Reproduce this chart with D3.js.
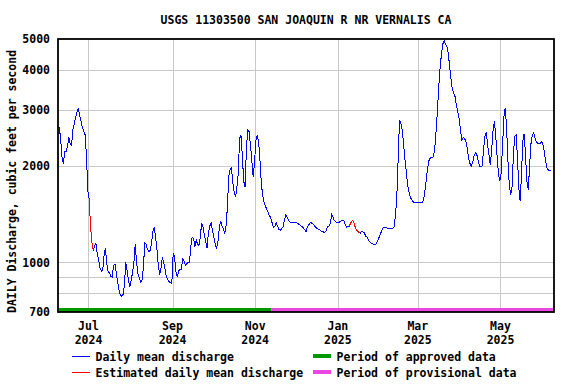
<html>
<script src='https://d3js.org/d3.v7.min.js'></script>
<style>
body { margin: 0; background: white; }
text { font-family: 'DejaVu Sans Mono', monospace; font-weight: bold; font-size: 11.5px; fill: black; }
</style>
<body>
<svg width=576 height=384></svg>
<script>
// daily mean discharge (cfs), one array per month, first value is 8 Jun 2024
const jun2024 = [2650, 2640, 2420, 2120, 2040, 2230, 2230, 2300, 2460, 2350, 2320, 2600, 2720, 2850, 2950, 3040, 2880, 2760, 2650, 2580, 2510, 2150, 1680];
const jul2024 = [1580, 1300, 1160, 1090, 1130, 1150, 1060, 1020, 960, 940, 945, 1050, 1110, 990, 935, 930, 905, 900, 980, 990, 930, 870, 820, 790, 785, 795, 850, 1000, 940, 880, 840];
const aug2024 = [880, 930, 1000, 1140, 1000, 920, 895, 870, 880, 960, 1150, 1140, 1100, 1080, 1090, 1150, 1250, 1290, 1200, 1100, 980, 915, 960, 1040, 1000, 950, 900, 885, 870, 865, 860];
const sep2024 = [1070, 1040, 940, 900, 940, 950, 950, 1025, 1010, 980, 990, 1000, 1000, 1120, 1200, 1190, 1120, 1175, 1140, 1130, 1200, 1330, 1290, 1220, 1160, 1110, 1240, 1300, 1330, 1260];
const oct2024 = [1200, 1140, 1110, 1160, 1280, 1350, 1300, 1280, 1230, 1300, 1490, 1850, 1960, 1975, 1780, 1660, 1600, 1720, 1900, 2440, 2500, 2170, 1800, 1720, 2250, 2600, 2570, 2330, 2090, 1850, 2050];
const nov2024 = [2400, 2500, 2400, 2100, 1780, 1620, 1550, 1500, 1470, 1440, 1400, 1380, 1330, 1290, 1300, 1330, 1300, 1270, 1260, 1275, 1290, 1350, 1410, 1390, 1360, 1340, 1330, 1330, 1330, 1330];
const dec2024 = [1330, 1325, 1315, 1305, 1295, 1285, 1265, 1250, 1290, 1310, 1330, 1330, 1320, 1310, 1290, 1280, 1270, 1265, 1255, 1250, 1245, 1245, 1260, 1300, 1300, 1330, 1410, 1385, 1350, 1340, 1330];
const jan2025 = [1330, 1345, 1350, 1357, 1350, 1310, 1290, 1300, 1300, 1330, 1350, 1345, 1300, 1270, 1255, 1240, 1235, 1250, 1245, 1240, 1210, 1200, 1180, 1160, 1150, 1145, 1140, 1135, 1150, 1175, 1200];
const feb2025 = [1230, 1260, 1290, 1290, 1290, 1280, 1280, 1275, 1275, 1280, 1290, 1400, 1600, 2100, 2790, 2720, 2600, 2350, 2100, 1920, 1750, 1660, 1600, 1570, 1550, 1540, 1540, 1540];
const mar2025 = [1540, 1540, 1540, 1545, 1590, 1700, 1860, 2000, 2110, 2125, 2125, 2140, 2280, 2580, 3000, 3550, 4100, 4500, 4830, 4930, 4820, 4720, 4500, 4100, 3750, 3480, 3380, 3300, 3100, 2960, 2820];
const apr2025 = [2600, 2420, 2460, 2440, 2390, 2270, 2110, 2040, 2000, 2060, 2150, 2200, 2180, 2080, 2000, 1990, 2010, 2250, 2480, 2560, 2330, 2170, 2020, 2250, 2580, 2770, 2500, 2150, 1900, 1800];
const may2025 = [1900, 2300, 2850, 3040, 2650, 2080, 1750, 1630, 1720, 2150, 2480, 2500, 2150, 1720, 1560, 1880, 2400, 2530, 2150, 1790, 1690, 2000, 2350, 2500, 2540, 2450, 2380, 2360, 2360, 2360, 2390];
const jun2025 = [2330, 2200, 2050, 1960, 1945, 1945, 1945];

// days flagged as estimated (first..last)
const estimatedRanges = [["2024-07-02", "2024-07-03"], ["2025-01-10", "2025-01-16"]];
// approval status periods
const periods = [
    {label: "Period of approved data", start: "2024-06-08T12:00Z", end: "2024-11-13T00:00Z", color: "#009a00"},
    {label: "Period of provisional data", start: "2024-11-13T00:00Z", end: "2025-06-09T12:00Z", color: "#ea46e2"}
];

const title = "USGS 11303500 SAN JOAQUIN R NR VERNALIS CA";
const yTitle = "DAILY Discharge, cubic feet per second";
const yLabels = [700, 1000, 2000, 3000, 4000, 5000];
const yGrid = [800, 900, 1000, 2000, 3000, 4000];
const xTickDates = ["2024-07-01", "2024-09-01", "2024-11-01", "2025-01-01", "2025-03-01", "2025-05-01"];
const xTickMonths = ["Jul", "Sep", "Nov", "Jan", "Mar", "May"];
const xTickYears = ["2024", "2024", "2024", "2025", "2025", "2025"];

const flow = [].concat(jun2024, jul2024, aug2024, sep2024, oct2024, nov2024, dec2024,
                       jan2025, feb2025, mar2025, apr2025, may2025, jun2025);
const day0 = Date.UTC(2024, 5, 8, 12);
const data = flow.map((v, i) => {
    const date = new Date(day0 + i * 864e5);
    const iso = date.toISOString().slice(0, 10);
    const est = estimatedRanges.some(r => iso >= r[0] && iso <= r[1]);
    return {date: date, value: v, est: est};
});

const plotL = 58, plotR = 554, plotT = 39, plotB = 312;

const x = d3.scaleUtc()
    .domain([new Date("2024-06-08T12:00Z"), new Date("2025-06-09T12:00Z")])
    .range([plotL, plotR]);
const y = d3.scaleLog()
    .domain([700, 5000])
    .range([plotB, plotT]);

const svg = d3.select("svg");

// grid
svg.append("g")
    .selectAll("line")
    .data(yGrid)
    .enter()
    .append("line")
    .attr("x1", plotL).attr("x2", plotR)
    .attr("y1", d => Math.round(y(d)) + 0.5)
    .attr("y2", d => Math.round(y(d)) + 0.5)
    .attr("stroke", "#c8c8c8")
    .attr("shape-rendering", "crispEdges");

svg.append("g")
    .selectAll("line")
    .data(xTickDates)
    .enter()
    .append("line")
    .attr("x1", d => Math.round(x(new Date(d + "T00:00Z"))) + 0.5)
    .attr("x2", d => Math.round(x(new Date(d + "T00:00Z"))) + 0.5)
    .attr("y1", plotT).attr("y2", plotB)
    .attr("stroke", "#c8c8c8")
    .attr("shape-rendering", "crispEdges");

// discharge line
const line = d3.line()
    .x(d => x(d.date))
    .y(d => y(d.value));

svg.append("path")
    .datum(data)
    .attr("d", line)
    .attr("fill", "none")
    .attr("stroke", "#0000ff")
    .attr("stroke-width", 1)
    .attr("shape-rendering", "crispEdges");

// estimated parts in red
svg.append("path")
    .datum(data)
    .attr("d", line.defined((d, i) => d.est || (data[i - 1] && data[i - 1].est) || (data[i + 1] && data[i + 1].est)))
    .attr("fill", "none")
    .attr("stroke", "#ff0000")
    .attr("stroke-width", 1)
    .attr("shape-rendering", "crispEdges");

// approval bars along the bottom
svg.append("g")
    .selectAll("rect")
    .data(periods)
    .enter()
    .append("rect")
    .attr("x", d => x(new Date(d.start)))
    .attr("width", d => x(new Date(d.end)) - x(new Date(d.start)))
    .attr("y", plotB - 4)
    .attr("height", 4)
    .attr("fill", d => d.color);

// frame
svg.append("rect")
    .attr("x", plotL).attr("y", plotT)
    .attr("width", plotR - plotL).attr("height", plotB - plotT)
    .attr("fill", "none")
    .attr("stroke", "black")
    .attr("stroke-width", 1.8);

// y labels
svg.append("g")
    .selectAll("text")
    .data(yLabels)
    .enter()
    .append("text")
    .attr("x", plotL - 8)
    .attr("y", d => y(d))
    .attr("dy", "0.36em")
    .attr("text-anchor", "end")
    .text(d => d);

// x labels
const xl = svg.append("g")
    .selectAll("g")
    .data(xTickDates)
    .enter()
    .append("g")
    .attr("transform", d => "translate(" + x(new Date(d + "T00:00Z")) + ",0)");
xl.append("text")
    .attr("y", 330)
    .attr("text-anchor", "middle")
    .text((d, i) => xTickMonths[i]);
xl.append("text")
    .attr("y", 343.5)
    .attr("text-anchor", "middle")
    .text((d, i) => xTickYears[i]);

// titles
svg.append("text")
    .attr("x", (plotL + plotR) / 2)
    .attr("y", 23.5)
    .attr("text-anchor", "middle")
    .text(title);

svg.append("text")
    .attr("transform", "translate(16," + ((plotT + plotB) / 2 + 6) + ") rotate(-90)")
    .attr("text-anchor", "middle")
    .text(yTitle);

// legend
const legendLines = [
    {label: "Daily mean discharge", color: "#0000ff"},
    {label: "Estimated daily mean discharge", color: "#ff0000"}
];
const lg = svg.append("g");
lg.selectAll("line")
    .data(legendLines)
    .enter()
    .append("line")
    .attr("x1", 72).attr("x2", 90)
    .attr("y1", (d, i) => 356.5 + i * 16)
    .attr("y2", (d, i) => 356.5 + i * 16)
    .attr("stroke", d => d.color)
    .attr("stroke-width", 1)
    .attr("shape-rendering", "crispEdges");
lg.selectAll("text.l")
    .data(legendLines)
    .enter()
    .append("text")
    .attr("x", 95.5)
    .attr("y", (d, i) => 360.5 + i * 16)
    .text(d => d.label);
lg.selectAll("rect")
    .data(periods)
    .enter()
    .append("rect")
    .attr("x", 313).attr("width", 18)
    .attr("y", (d, i) => 354 + i * 16)
    .attr("height", 4)
    .attr("fill", d => d.color);
lg.selectAll("text.p")
    .data(periods)
    .enter()
    .append("text")
    .attr("x", 336.5)
    .attr("y", (d, i) => 360.5 + i * 16)
    .text(d => d.label);
</script>
</body>
</html>
